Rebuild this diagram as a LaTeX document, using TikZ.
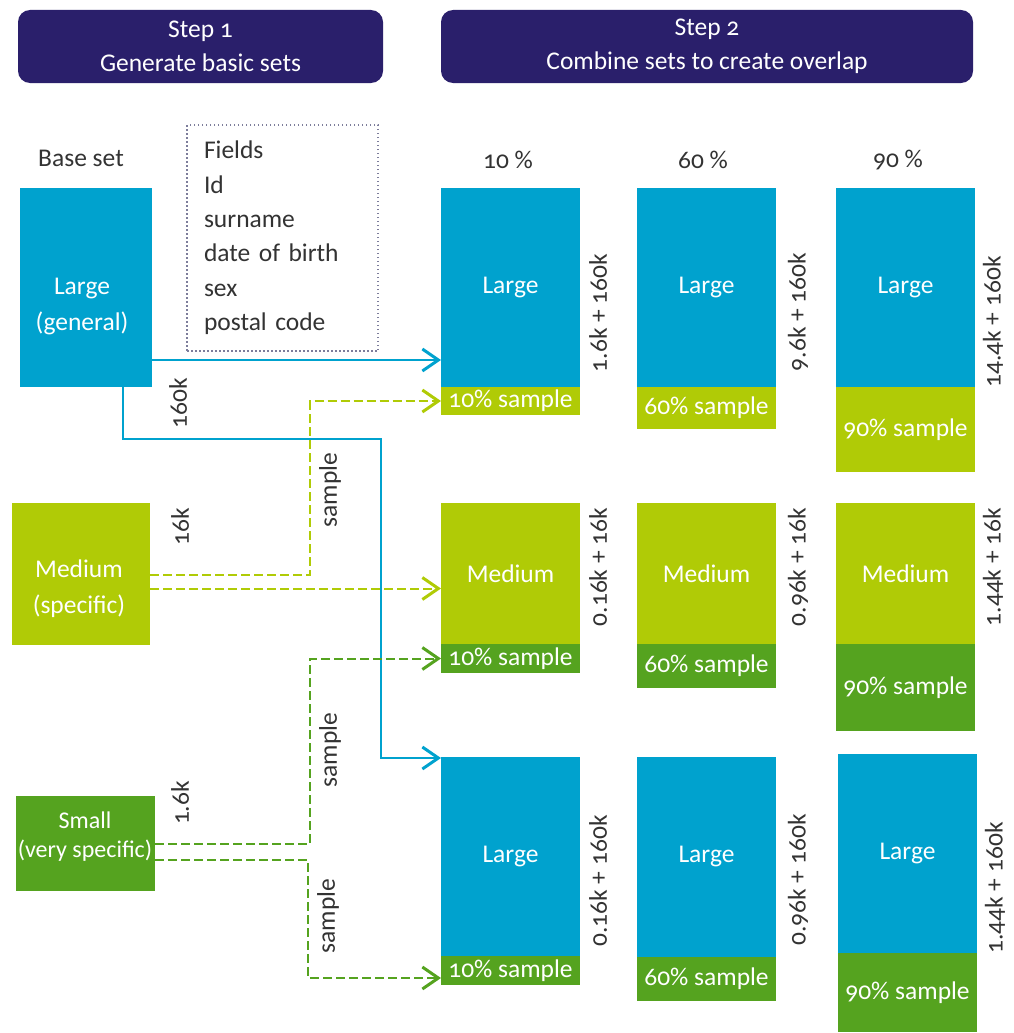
\documentclass[tikz,border=0pt]{standalone}
\usepackage{fontspec}
\setmainfont{Carlito}[Numbers=OldStyle]
\usetikzlibrary{arrows.meta, positioning}

\definecolor{stepbg}{RGB}{42,31,107}
\definecolor{setblue}{RGB}{0,162,206}
\definecolor{setlime}{RGB}{176,203,6}
\definecolor{setgreen}{RGB}{85,163,31}
\definecolor{txtgray}{RGB}{51,51,51}
\definecolor{dotgray}{RGB}{125,125,155}
\newcommand\fs{\fontsize{25.5}{34}\selectfont}

\begin{document}
\begin{tikzpicture}[x=1pt, y=-1pt,
    stepbox/.style={fill=stepbg, rounded corners=12pt, text=white, font=\fs, align=center, minimum height=73pt, inner sep=0pt},
    setbox/.style={minimum width=139pt, inner sep=0pt, outer sep=0pt, text=white, font=\fs},
    intxt/.style={text=white, align=center, inner sep=0pt},
    lbl/.style={text=txtgray, font=\fs, inner sep=0pt},
    vlbl/.style={lbl, rotate=90},
    link/.style={line width=2pt, -{Straight Barb[length=16pt, width=22pt, line width=3pt]}},
    dlink/.style={link, dash pattern=on 9pt off 4pt}]

    \useasboundingbox (0,0) rectangle (1014,1033);

    % Step headers
    \node[stepbox, minimum width=365pt] (step1) at (200.5,46.5) {Step 1\\Generate basic sets};
    \node[stepbox, minimum width=532pt] (step2) at (707,46.5) {Step 2\\Combine sets to create overlap};

    % Base sets
    \node[lbl] (baselbl) at (81,158) {Base set};
    \node[setbox, fill=setblue, minimum width=132pt, minimum height=199pt] (baseL) at (86,287.5) {};
    \node[intxt, font=\fontsize{25.5}{36}\selectfont] (baseLtxt) at (82,307) {Large\\(general)};
    \node[setbox, fill=setlime, minimum width=138pt, minimum height=142pt] (baseM) at (81,573.5) {};
    \node[intxt, font=\fontsize{25.5}{36}\selectfont] (baseMtxt) at (79,589) {Medium\\(specific)};
    \node[setbox, fill=setgreen, minimum width=139pt, minimum height=95pt] (baseS) at (85.5,843.5) {};
    \node[intxt, font=\fontsize{24}{29}\selectfont] (baseStxt) at (85,837) {Small\\(very specific)};

    % Fields box
    \node[draw=dotgray, line width=1.5pt, dash pattern=on 1.5pt off 2.5pt, minimum width=191pt, minimum height=226pt,
          text width=157pt, inner xsep=17pt, align=left, text=txtgray, font=\fontsize{25.5}{34.4}\selectfont] (fields) at (282.5,238)
          {Fields\\Id\\surname\\date of birth\\sex\\postal code};

    % Sizes and sample labels
    \node[vlbl] (n160k) at (178,403) {160k};
    \node[vlbl] (n16k) at (180,527) {16k};
    \node[vlbl] (n1k6) at (180,803) {1.6k};
    \node[vlbl] (smp1) at (330,490) {sample};
    \node[vlbl] (smp2) at (330,750) {sample};
    \node[vlbl] (smp3) at (328,916) {sample};

    % Overlap percentages
    \node[lbl] (pct10) at (508,160) {10 \%};
    \node[lbl] (pct60) at (703,160) {60 \%};
    \node[lbl] (pct90) at (898,160) {90 \%};

    % Row 1: Large + medium sample
    \node[setbox, fill=setblue, minimum height=199pt, anchor=north] (l10) at (510.5,188) {Large};
    \node[setbox, fill=setlime, minimum height=28pt, below=0pt of l10] (l10s) {10\% sample};
    \node[setbox, fill=setblue, minimum height=199pt, anchor=north] (l60) at (706.5,188) {Large};
    \node[setbox, fill=setlime, minimum height=42pt, below=0pt of l60] (l60s) {60\% sample};
    \node[setbox, fill=setblue, minimum height=199pt, anchor=north] (l90) at (905.5,188) {Large};
    \node[setbox, fill=setlime, minimum height=85pt, below=0pt of l90] (l90s) {90\% sample};

    % Row 2: Medium + small sample
    \node[setbox, fill=setlime, minimum height=141pt, anchor=north] (m10) at (510.5,503) {Medium};
    \node[setbox, fill=setgreen, minimum height=29pt, below=0pt of m10] (m10s) {10\% sample};
    \node[setbox, fill=setlime, minimum height=141pt, anchor=north] (m60) at (706.5,503) {Medium};
    \node[setbox, fill=setgreen, minimum height=44pt, below=0pt of m60] (m60s) {60\% sample};
    \node[setbox, fill=setlime, minimum height=141pt, anchor=north] (m90) at (905.5,503) {Medium};
    \node[setbox, fill=setgreen, minimum height=87pt, below=0pt of m90] (m90s) {90\% sample};

    % Row 3: Large + small sample
    \node[setbox, fill=setblue, minimum height=199pt, anchor=north] (b10) at (510.5,757) {Large};
    \node[setbox, fill=setgreen, minimum height=29pt, below=0pt of b10] (b10s) {10\% sample};
    \node[setbox, fill=setblue, minimum height=200pt, anchor=north] (b60) at (706.5,757) {Large};
    \node[setbox, fill=setgreen, minimum height=44pt, below=0pt of b60] (b60s) {60\% sample};
    \node[setbox, fill=setblue, minimum height=199pt, anchor=north] (b90) at (907.5,754) {Large};
    \node[setbox, fill=setgreen, minimum height=79pt, below=0pt of b90] (b90s) {90\% sample};

    % Record counts
    \node[vlbl] (c10a) at (598,313) {1.6k + 160k};
    \node[vlbl] (c60a) at (798,312) {9.6k + 160k};
    \node[vlbl] (c90a) at (993,322) {14.4k + 160k};
    \node[vlbl] (c10b) at (598,567) {0.16k + 16k};
    \node[vlbl] (c60b) at (798,567) {0.96k + 16k};
    \node[vlbl] (c90b) at (993,567) {1.44k + 16k};
    \node[vlbl] (c10c) at (598,881) {0.16k + 160k};
    \node[vlbl] (c60c) at (798,880) {0.96k + 160k};
    \node[vlbl] (c90c) at (995,888) {1.44k + 160k};

    % Connectors
    \draw[link, setblue] ([yshift=-72.5pt]baseL.east) -- ([yshift=-72.5pt]l10.west);
    \draw[link, setblue] ([xshift=37pt]baseL.south) -- ++(0,52)
        -| ([xshift=-60pt, yshift=-1pt]b10.north west) -- ([yshift=-1pt]b10.north west);
    \draw[dlink, setlime] ([yshift=-1pt]baseM.east) -| ([xshift=-131pt]l10s.west) -- (l10s.west);
    \draw[dlink, setlime] ([yshift=-15pt]baseM.east) -- ([yshift=-15pt]m10.west);
    \draw[dlink, setgreen] (baseS.east) -| ([xshift=-131pt]m10s.west) -- (m10s.west);
    \draw[dlink, setgreen] ([yshift=-16.5pt]baseS.east) -| ([xshift=-133pt, yshift=-7.5pt]b10s.west)
        -- ([yshift=-7.5pt]b10s.west);
\end{tikzpicture}
\end{document}
